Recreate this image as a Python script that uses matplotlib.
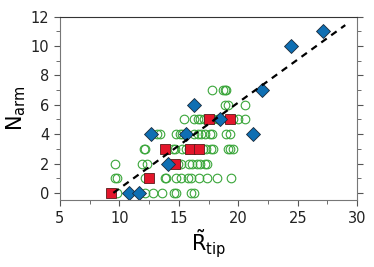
import matplotlib
matplotlib.use('Agg')
import matplotlib.pyplot as plt
import numpy as np
from matplotlib.ticker import MultipleLocator

# green open circles: x values per arm count row
circ_rows = {
    0: [9.8, 12.2, 12.8, 13.6, 14.6, 14.75, 16.0, 16.3],
    1: [9.6, 9.8, 12.2, 13.8, 13.9, 14.8, 15.2, 15.8, 16.0, 16.7, 17.4, 18.2, 19.4],
    2: [9.6, 11.9, 12.3, 14.9, 15.2, 15.9, 16.1, 16.5, 16.8, 17.2, 17.4],
    3: [12.1, 12.2, 14.5, 14.7, 15.3, 15.6, 15.9, 16.2, 17.0, 17.3, 17.7, 17.9,
        19.1, 19.3, 19.6],
    4: [13.2, 13.4, 14.8, 15.1, 15.3, 16.3, 16.6, 16.9, 17.2, 17.6, 17.8, 19.0, 19.3],
    5: [15.4, 16.3, 16.6, 16.8, 17.1, 17.9, 18.3, 19.1, 19.6, 20.0, 20.6],
    6: [18.9, 19.1, 20.6],
    7: [17.8, 18.7, 18.9, 19.0],
}
circ_x = [x for k in circ_rows for x in circ_rows[k]]
circ_y = [k for k in circ_rows for x in circ_rows[k]]

sq_x = [9.3, 12.47, 13.82, 14.69, 15.96, 16.74, 17.56, 19.33]
sq_y = [0, 1, 3, 2, 3, 3, 5, 5]

dia_x = [10.8, 11.69, 12.7, 14.13, 15.62, 16.32, 18.45, 21.24, 22.02, 24.47, 27.13]
dia_y = [0, 0, 4, 2, 4, 6, 5, 4, 7, 10, 11]

fit_x = [9.5, 29.0]
fit_slope = 0.586
fit_x0 = 9.5

plt.rcParams['mathtext.default'] = 'regular'
fig = plt.figure(figsize=(3.74, 2.67), dpi=100)
ax = fig.add_axes([0.160, 0.250, 0.795, 0.6875])

ax.plot(circ_x, circ_y, 'o', ms=6.2, mfc='none', mec='#3aa63a', mew=0.8)
ax.plot(sq_x, sq_y, 's', ms=6.6, mfc='#e3162b', mec='#5a1a1a', mew=0.6)
ax.plot(dia_x, dia_y, 'D', ms=6.8, mfc='#0f6fb3', mec='#1a2a3a', mew=0.6)
fx = np.array(fit_x)
ax.plot(fx, fit_slope * (fx - fit_x0), '--', color='k', lw=1.6, dashes=(3, 2.5))

ax.set_xlim(5, 30)
ax.set_ylim(-0.5, 12)
ax.xaxis.set_major_locator(MultipleLocator(5))
ax.xaxis.set_minor_locator(MultipleLocator(2.5))
ax.yaxis.set_major_locator(MultipleLocator(2))
ax.yaxis.set_minor_locator(MultipleLocator(1))
ax.tick_params(which='both', direction='out', right=True, top=False,
               color='#555555', labelsize=10.5, labelcolor='#222222')
ax.tick_params(which='major', length=4)
ax.tick_params(which='minor', length=3)
for s in ['left', 'right', 'bottom']:
    ax.spines[s].set_color('#777777')
ax.spines['top'].set_color('#333333')

ax.set_xlabel(r'$\tilde{R}_{tip}$', fontsize=15, labelpad=1)
ax.set_ylabel(r'$N_{arm}$', fontsize=15, labelpad=2)

fig.savefig('out.png', dpi=100)
